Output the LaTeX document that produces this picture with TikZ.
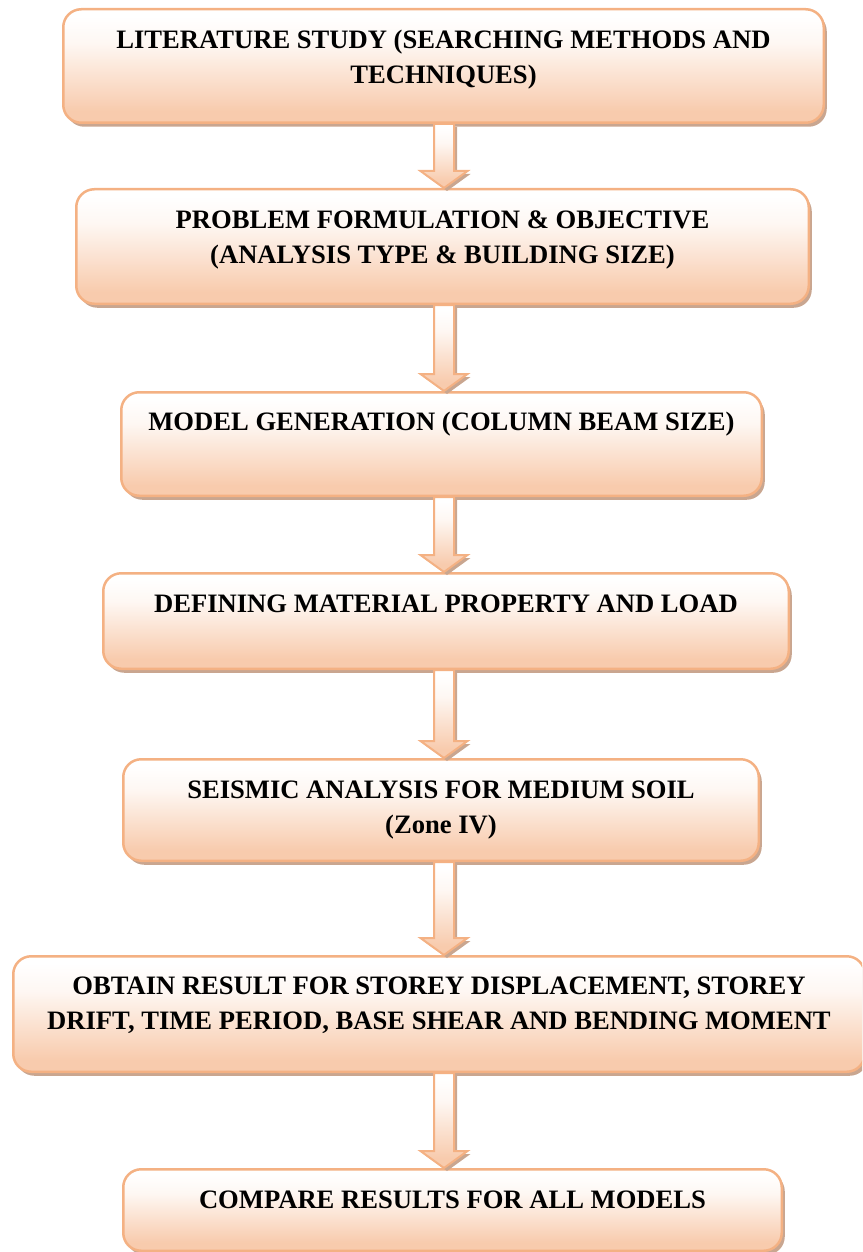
\documentclass[tikz,border=0pt]{standalone}
\usepackage{fontspec}
\setmainfont{Liberation Serif}
\usetikzlibrary{shadows,calc}
\definecolor{peachline}{HTML}{F4B183}
\definecolor{peachfill}{HTML}{F8CBAD}
\definecolor{shadowcol}{HTML}{C9A690}
\colorlet{peachmid}{peachfill!55!white}
\colorlet{peachlight}{peachfill!15!white}
\pgfdeclareverticalshading{peachshade}{100bp}{color(0bp)=(peachfill); color(30bp)=(peachfill); color(46bp)=(peachmid); color(60bp)=(peachlight); color(72bp)=(white); color(100bp)=(white)}
\newcommand\blockarr[2]{%
  \draw[flowarrow] ($(#1.south -| ax)+(-10,0)$) -- ($(#2.north -| ax)+(-10,-17)$) -- ($(#2.north -| ax)+(-23.5,-17)$) -- (#2.north -| ax) -- ($(#2.north -| ax)+(23.5,-17)$) -- ($(#2.north -| ax)+(10,-17)$) -- ($(#1.south -| ax)+(10,0)$) -- cycle;}
\begin{document}
\begin{tikzpicture}[x=1pt,y=-1pt,
  flowbox/.style={draw=peachline, line width=2.5pt, rounded corners=18pt, shade, shading=peachshade,
    drop shadow={shadow xshift=3pt, shadow yshift=-4pt, fill=shadowcol, opacity=1}, inner sep=0pt},
  boxtext/.style={anchor=north, inner sep=0pt, align=center, font=\fontsize{26.6}{35}\selectfont\bfseries},
  flowarrow/.style={draw=peachline, line width=2pt, shade, shading=peachshade, line join=miter,
    drop shadow={shadow xshift=3pt, shadow yshift=-3pt, fill=shadowcol, opacity=1}}]
\useasboundingbox (0,0) rectangle (862,1252);
\clip (0,0) rectangle (862,1252);
\coordinate (ax) at (444,0);
% boxes
\node[flowbox, minimum width=760.5pt, minimum height=113.5pt] (b1) at (443.5,66) {};
\node[flowbox, minimum width=732.5pt, minimum height=114.5pt] (b2) at (442.5,246.5) {};
\node[flowbox, minimum width=640.5pt, minimum height=103.5pt] (b3) at (441.5,444) {};
\node[flowbox, minimum width=685.5pt, minimum height=95.5pt] (b4) at (446,621) {};
\node[flowbox, minimum width=635.5pt, minimum height=101.5pt] (b5) at (441,810) {};
\node[flowbox, minimum width=851.5pt, minimum height=115.5pt] (b6) at (439,1014) {};
\node[flowbox, minimum width=658.5pt, minimum height=81.5pt] (b7) at (452.5,1210) {};
% arrows
\blockarr{b1}{b2}
\blockarr{b2}{b3}
\blockarr{b3}{b4}
\blockarr{b4}{b5}
\blockarr{b5}{b6}
\blockarr{b6}{b7}
% texts
\node[boxtext] (t1) at ($(b1.north)+(0,16)$) {\rule{0pt}{24pt}LITERATURE STUDY (SEARCHING METHODS AND\\TECHNIQUES)};
\node[boxtext] (t2) at ($(b2.north)+(0,16.5)$) {\rule{0pt}{24pt}PROBLEM FORMULATION \& OBJECTIVE\\(ANALYSIS TYPE \& BUILDING SIZE)};
\node[boxtext] (t3) at ($(b3.north)+(0,15.5)$) {\rule{0pt}{24pt}MODEL GENERATION (COLUMN BEAM SIZE)};
\node[boxtext] (t4) at ($(b4.north)+(0,16.5)$) {\rule{0pt}{24pt}DEFINING MATERIAL PROPERTY AND LOAD};
\node[boxtext] (t5) at ($(b5.north)+(0,16)$) {\rule{0pt}{24pt}SEISMIC ANALYSIS FOR MEDIUM SOIL\\(Zone IV)};
\node[boxtext] (t6) at ($(b6.north)+(0,15.5)$) {\rule{0pt}{24pt}OBTAIN RESULT FOR STOREY DISPLACEMENT, STOREY\\DRIFT, TIME PERIOD, BASE SHEAR AND BENDING MOMENT};
\node[boxtext] (t7) at ($(b7.north)+(0,16)$) {\rule{0pt}{24pt}COMPARE RESULTS FOR ALL MODELS};
\end{tikzpicture}
\end{document}
